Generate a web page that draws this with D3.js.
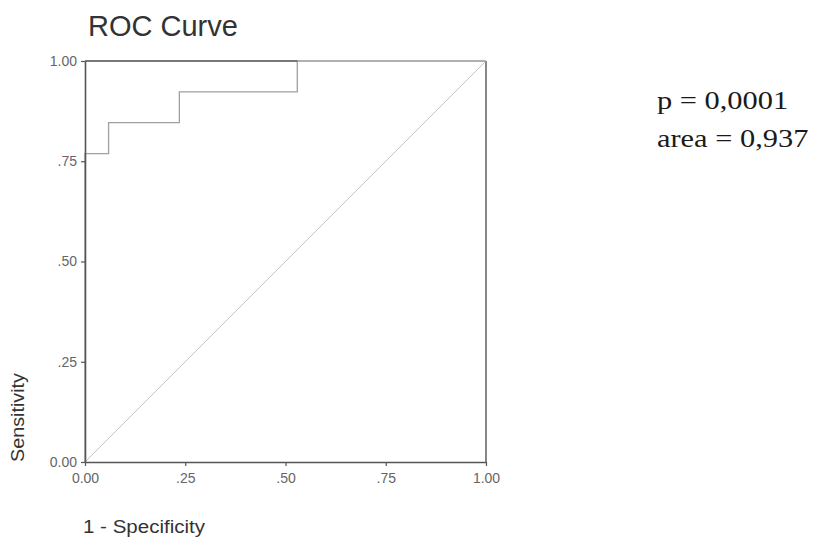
<!DOCTYPE html>
<html>
<head>
<meta charset="utf-8">
<script src="https://cdn.jsdelivr.net/npm/d3@7"></script>
<style>
  body { margin: 0; background: #fff; }
  .tick text { font-family: "Liberation Sans", Arial, sans-serif; fill: #666; }
</style>
</head>
<body>
<div id="chart"></div>
<script>
// ROC data (1 - specificity, sensitivity)
var fpr = [0, 0, 0.0588, 0.2353, 0.5294, 1];
var tpr = [0, 0.7692, 0.8462, 0.9231, 1, 1];
var tickValues = [0, 0.25, 0.5, 0.75, 1];
var tickLabels = ["0.00", ".25", ".50", ".75", "1.00"];
var statLines = ["p = 0,0001", "area = 0,937"];

var svgWidth = 813;
var svgHeight = 537;

var margin = { top: 61, right: 327, bottom: 75, left: 85 };
var width = svgWidth - margin.left - margin.right;
var height = svgHeight - margin.top - margin.bottom;

var svg = d3.select("#chart")
    .append("svg")
    .attr("width", svgWidth)
    .attr("height", svgHeight);

var chartGroup = svg.append("g")
    .attr("transform", `translate(${margin.left}, ${margin.top})`);

var x = d3.scaleLinear().domain([0, 1]).range([0, width]);
var y = d3.scaleLinear().domain([0, 1]).range([height, 0]);

// frame: top and right
chartGroup.append("line")
    .attr("x1", x(0)).attr("x2", x(1))
    .attr("y1", y(1)).attr("y2", y(1))
    .attr("stroke", "#c8c8c8").attr("stroke-width", 1.2);

chartGroup.append("line")
    .attr("x1", x(1)).attr("x2", x(1))
    .attr("y1", y(0)).attr("y2", y(1))
    .attr("stroke", "#555").attr("stroke-width", 1.4);

// reference diagonal
chartGroup.append("line")
    .attr("x1", x(0)).attr("y1", y(0))
    .attr("x2", x(1)).attr("y2", y(1))
    .attr("stroke", "#c8c8c8").attr("stroke-width", 1);

// roc curve
var points = fpr.map((d, i) => [d, tpr[i]]);
var line = d3.line()
    .x(d => x(d[0]))
    .y(d => y(d[1]))
    .curve(d3.curveStepAfter);

chartGroup.append("path")
    .datum(points)
    .attr("fill", "none")
    .attr("stroke", "#a0a0a0")
    .attr("stroke-width", 1.3)
    .attr("d", line);

// where the curve runs along the top it prints darker
var topStart = points.find(d => d[1] === 1);
chartGroup.append("line")
    .attr("x1", x(0)).attr("x2", x(topStart[0]))
    .attr("y1", y(1)).attr("y2", y(1))
    .attr("stroke", "#555").attr("stroke-width", 1.6);

// axes
var bottomAxis = d3.axisBottom(x)
    .tickValues(tickValues)
    .tickFormat((d, i) => tickLabels[i])
    .tickSize(4)
    .tickSizeOuter(0);
var leftAxis = d3.axisLeft(y)
    .tickValues(tickValues)
    .tickFormat((d, i) => tickLabels[i])
    .tickSize(4)
    .tickSizeOuter(0);

var xAxisG = chartGroup.append("g")
    .attr("transform", `translate(0, ${height})`)
    .call(bottomAxis);
var yAxisG = chartGroup.append("g")
    .call(leftAxis);

[xAxisG, yAxisG].forEach(function(g) {
    g.select(".domain").attr("stroke", "#555").attr("stroke-width", 1.6);
    g.selectAll(".tick line").attr("stroke", "#555").attr("stroke-width", 1.2);
    g.selectAll(".tick text").attr("font-size", "14px");
});
xAxisG.selectAll(".tick text").attr("dy", "0.9em").attr("y", 8);
yAxisG.selectAll(".tick text").attr("x", -8);

// titles
svg.append("text")
    .attr("x", 88)
    .attr("y", 36)
    .attr("font-family", "Liberation Sans, Arial, sans-serif")
    .attr("font-size", "29px")
    .attr("fill", "#333")
    .text("ROC Curve");

svg.append("text")
    .attr("x", 83)
    .attr("y", 533)
    .attr("font-family", "Liberation Sans, Arial, sans-serif")
    .attr("font-size", "18px")
    .attr("fill", "#333")
    .attr("textLength", 122)
    .attr("lengthAdjust", "spacingAndGlyphs")
    .text("1 - Specificity");

svg.append("text")
    .attr("transform", "translate(24, 462) rotate(-90)")
    .attr("font-family", "Liberation Sans, Arial, sans-serif")
    .attr("font-size", "18px")
    .attr("fill", "#333")
    .attr("textLength", 89)
    .attr("lengthAdjust", "spacingAndGlyphs")
    .text("Sensitivity");

svg.selectAll(".stat")
    .data(statLines)
    .enter()
    .append("text")
    .attr("class", "stat")
    .attr("transform", (d, i) => `translate(657, ${109 + i * 38}) scale(1.17, 1)`)
    .attr("font-family", "Liberation Serif, Times New Roman, serif")
    .attr("font-size", "26px")
    .attr("fill", "#1a1a1a")
    .text(d => d);
</script>
</body>
</html>
